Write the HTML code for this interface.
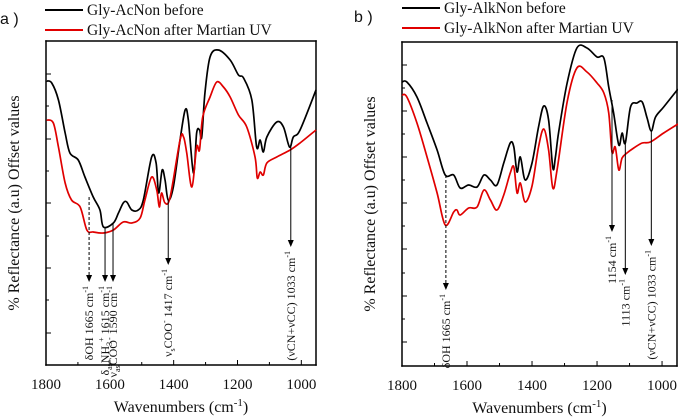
<!DOCTYPE html>
<html><head><meta charset="utf-8"><style>
body{margin:0;background:#fff;width:678px;height:419px;overflow:hidden}
svg{display:block}
text{font-family:"Liberation Serif",serif;fill:#111}
</style></head><body>
<svg id="s" width="678" height="419"></svg>
<script>
const wnA1=[1798,1782,1761,1740,1725,1699,1678,1652,1631,1620,1589,1573,1558,1547,1531,1511,1495,1469,1455,1447,1436,1427,1417,1401,1380,1364,1354,1338,1328,1319,1312,1302,1286,1260,1223,1197,1181,1155,1140,1129,1119,1108,1077,1056,1037,1025,1004,954];
const valA1=[284,282,265,232,212,205,188,168,155,138,142,152,162,163,155,155,165,208,202,172,195,185,165,178,225,255,245,192,232,235,228,272,308,315,305,290,287,265,218,225,213,228,243,238,218,228,235,275];
const wnA2=[1798,1777,1761,1740,1720,1693,1672,1652,1620,1589,1558,1531,1505,1490,1469,1453,1445,1438,1427,1411,1380,1369,1359,1343,1328,1319,1309,1286,1265,1244,1223,1197,1171,1145,1138,1129,1119,1108,1077,1035,1004,954];
const valA2=[245,242,218,182,165,158,135,133,132,135,143,142,147,165,188,175,158,172,162,168,225,228,212,178,218,215,248,268,283,278,268,250,238,208,187,193,190,202,208,215,222,235];
const wnB1=[1800,1785,1754,1723,1692,1667,1641,1621,1595,1569,1548,1528,1508,1487,1467,1456,1446,1436,1421,1400,1380,1364,1349,1336,1328,1318,1292,1262,1231,1200,1179,1164,1149,1133,1123,1113,1097,1077,1061,1046,1033,1020,995,951];
const valB1=[284,284,269,243,216,191,191,178,181,179,191,186,181,203,223,219,194,209,186,203,239,260,246,198,209,234,283,318,318,309,308,279,253,221,233,223,259,263,264,248,235,249,259,277];
const wnB2=[1800,1785,1754,1723,1692,1667,1641,1631,1621,1595,1569,1548,1528,1508,1487,1467,1456,1446,1436,1421,1400,1380,1364,1349,1336,1323,1292,1262,1231,1200,1179,1164,1154,1144,1133,1123,1108,1087,1061,1036,995,951];
const valB2=[271,269,243,209,173,141,154,156,151,158,159,176,166,156,171,193,199,173,183,164,180,219,237,216,178,196,264,298,294,283,273,253,214,219,196,208,213,218,223,224,233,242];
const xTicks=[1800,1600,1400,1200,1000];
const NS="http://www.w3.org/2000/svg";
const svg=document.getElementById('s');
function mk(t,a,p){const e=document.createElementNS(NS,t);for(const k in a)e.setAttribute(k,a[k]);(p||svg).appendChild(e);return e;}
function smooth(pts){let d='M'+pts[0][0]+','+pts[0][1];
  for(let i=0;i<pts.length-1;i++){const p0=pts[Math.max(0,i-1)],p1=pts[i],p2=pts[i+1],p3=pts[Math.min(pts.length-1,i+2)];
    const c1x=p1[0]+(p2[0]-p0[0])/6,c1y=p1[1]+(p2[1]-p0[1])/6,c2x=p2[0]-(p3[0]-p1[0])/6,c2y=p2[1]-(p3[1]-p1[1])/6;
    d+=`C${c1x},${c1y} ${c2x},${c2y} ${p2[0]},${p2[1]}`;}
  return d;}
function panel(P){
  const g=mk('g',{});
  
  
  const sx=w=>P.x0+(1800-w)*(P.x1-P.x0)/(1800-P.wmin);
  const sy=v=>P.yb-v;
  [[P.x0,P.yt,P.x0,P.yb],[P.x0,P.yb,P.x1,P.yb],[P.x1,P.yt,P.x1,P.yb],[P.x0,P.yt,P.x1,P.yt]].forEach(c=>{
    const l=mk('line',{x1:c[0],y1:c[1],x2:c[2],y2:c[3],stroke:'#000','stroke-width':'1.5','stroke-linecap':'square'},g);
    
    });
  xTicks.forEach(t=>{const x=sx(t);mk('line',{x1:x,x2:x,y1:P.yb,y2:P.yb-5,stroke:'#000'},g);
    const l=mk('text',{x:x,y:P.yb+24,'text-anchor':'middle','font-size':15},g);l.textContent=t;
    });
  for(let t=1700;t>P.wmin;t-=200){const x=sx(t);mk('line',{x1:x,x2:x,y1:P.yb,y2:P.yb-3,stroke:'#000'},g);}
  P.yt2.forEach((y,i)=>mk('line',{x1:P.x0,x2:P.x0+(i%2==0?5:3),y1:y,y2:y,stroke:'#000'},g));
  [[P.w1,P.v1,'#000','black-series-before'],[P.w2,P.v2,'#e00000','red-series-after-uv']].forEach(s=>{
    const p=mk('path',{d:smooth(s[0].map((w,i)=>[sx(w),sy(s[1][i])])),fill:'none',stroke:s[2],'stroke-width':1.7,'stroke-linejoin':'round'},g);
    });
  P.ann.forEach(a=>{const x=sx(a.w);
    const l=mk('line',{x1:x,x2:x,y1:a.y0,y2:a.y1-5,stroke:'#000','stroke-width':1,'stroke-dasharray':a.d?'3,2':'none'},g);
    
    mk('path',{d:`M${x-3},${a.y1-7}L${x+3},${a.y1-7}L${x},${a.y1}Z`,fill:'#000'},g);
    const t=mk('text',{x:0,y:0,'font-size':12,'text-anchor':'end',transform:`translate(${x+4},${a.y1+4}) rotate(-90)`},g);
    t.innerHTML=a.t;});
  const yt=mk('text',{'font-size':16,'text-anchor':'middle',transform:`translate(${P.x0-27},${(P.yt+P.yb)/2}) rotate(-90)`},g);
  yt.textContent='% Reflectance (a.u) Offset values';
  const xt=mk('text',{x:(P.x0+P.x1)/2,y:P.yb+47,'text-anchor':'middle','font-size':16},g);
  xt.innerHTML='Wavenumbers (cm<tspan dy="-6" font-size="11">-1</tspan><tspan dy="6">)</tspan>';
  
  P.leg.forEach((L,i)=>{const y=P.ly+i*20;
    mk('line',{x1:P.lx,x2:P.lx+38,y1:y,y2:y,stroke:i?'#e00000':'#000','stroke-width':2},g);
    const t=mk('text',{x:P.lx+42,y:y+5,'font-size':15.5},g);t.textContent=L;
    });
  const pl=mk('text',{x:P.px,y:P.py,'font-size':16,style:'font-family:"Liberation Sans",sans-serif'},g);
  pl.textContent=P.plab;
}
const sup='<tspan dy="-5" font-size="8">-1</tspan>';
panel({name:'panel-a',x0:46,x1:316,wmin:954,yt:41,yb:365,w1:wnA1,v1:valA1,w2:wnA2,v2:valA2,
  yt2:[74,106,139,171,203,236,268,300,333],lx:45,ly:10,leg:['Gly-AcNon before','Gly-AcNon after Martian UV'],px:0,py:24,plab:'a )',
  ann:[{w:1665,y0:197,y1:282,d:1,t:'δOH  1665 cm'+sup},{w:1615,y0:227,y1:282,t:'δ<tspan font-size="8" dy="3">as</tspan><tspan dy="-3">NH</tspan><tspan font-size="8" dy="3">3</tspan><tspan font-size="8" dy="-8">+</tspan><tspan dy="5">  1615 cm</tspan>'+sup},
  {w:1590,y0:223,y1:282,t:'ν<tspan font-size="8" dy="3">as</tspan><tspan dy="-3">COO</tspan><tspan font-size="8" dy="-5">-</tspan><tspan dy="5"> 1590 cm</tspan>'+sup},
  {w:1417,y0:200,y1:265,t:'ν<tspan font-size="8" dy="3">s</tspan><tspan dy="-3">COO</tspan><tspan font-size="8" dy="-5">-</tspan><tspan dy="5"> 1417 cm</tspan>'+sup},
  {w:1033,y0:147,y1:247,t:'(νCN+νCC) 1033 cm'+sup}]});
panel({name:'panel-b',x0:402,x1:677,wmin:954,yt:42,yb:366,w1:wnB1,v1:valB1,w2:wnB2,v2:valB2,
  yt2:[65,88,111,134,157,180,203,226,249,273,296,319,342],lx:402,ly:8,leg:['Gly-AlkNon before','Gly-AlkNon after Martian UV'],px:354,py:22,plab:'b )',
  ann:[{w:1665,y0:175,y1:290,d:1,t:'δOH  1665 cm'+sup},{w:1154,y0:100,y1:232,t:'1154 cm'+sup},
  {w:1113,y0:140,y1:275,t:'1113 cm'+sup},{w:1033,y0:130,y1:246,t:'(νCN+νCC) 1033 cm'+sup}]});
</script>
</body></html>
